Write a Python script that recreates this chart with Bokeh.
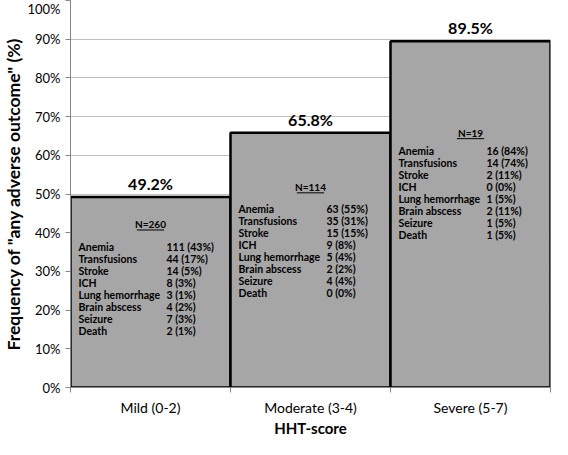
from bokeh.plotting import figure
from bokeh.models import Range1d, FixedTicker, PrintfTickFormatter, ColumnDataSource
from bokeh.core.properties import value
from bokeh.embed import file_html
from bokeh.resources import INLINE

# ---- data ----
categories = ["Mild (0-2)", "Moderate (3-4)", "Severe (5-7)"]
freq = [49.2, 65.8, 89.5]
n_patients = [260, 114, 19]
outcomes = ["Anemia", "Transfusions", "Stroke", "ICH", "Lung hemorrhage",
            "Brain abscess", "Seizure", "Death"]
mild_counts = ["111 (43%)", "44 (17%)", "14 (5%)", " 8 (3%)", "3 (1%)", "4 (2%)", "7 (3%)", "2 (1%)"]
moderate_counts = ["63 (55%)", "35 (31%)", "15 (15%)", "9 (8%)", "5 (4%)", "2 (2%)", "4 (4%)", "0 (0%)"]
severe_counts = ["16 (84%)", "14 (74%)", "2 (11%)", "0 (0%)", "1 (5%)", "2 (11%)", "1 (5%)", "1 (5%)"]
y_ticks = [0, 10, 20, 30, 40, 50, 60, 70, 80, 90, 100]

# ---- layout helpers (positions, not data) ----
header_y = [42.2, 51.8, 65.8]
first_line_y = [36.2, 46.0, 61.1]
line_step = 3.1
name_dx = 0.05
count_dx = 0.60

FONT = "Lato"

p = figure(width=552, height=439, output_backend="svg", toolbar_location=None,
           x_range=Range1d(0, 3), y_range=Range1d(0, 100),
           min_border_left=0, min_border_right=2, min_border_top=0, min_border_bottom=0)
p.outline_line_color = None
p.background_fill_color = "white"
p.border_fill_color = "white"

# grid
p.xgrid.grid_line_color = None
p.ygrid.ticker = FixedTicker(ticks=y_ticks)
p.ygrid.grid_line_color = "#BFBFBF"
p.ygrid.grid_line_width = 1

# bars
idx = list(range(len(categories)))
src = ColumnDataSource(dict(left=idx, right=[i + 1 for i in idx], top=freq,
                            bottom=[0] * len(idx),
                            mid=[i + 0.5 for i in idx],
                            lab=[f"{v:.1f}%" for v in freq]))
p.quad(left="left", right="right", top="top", bottom="bottom", source=src,
       fill_color="#A6A6A6", line_color="black", line_width=2.5)

# value labels
p.text(x="mid", y="top", text="lab", source=src, text_align="center",
       text_baseline="bottom", y_offset=-4, text_font=value(FONT),
       text_font_style="bold", text_font_size="16px", text_color="black")

# text inside bars
all_counts = [mild_counts, moderate_counts, severe_counts]
for i in idx:
    hy = header_y[i]
    p.text(x=[i + 0.5], y=[hy], text=[f"N={n_patients[i]}"], text_align="center",
           text_baseline="middle", text_font=value(FONT), text_font_style="bold",
           text_font_size="10px", text_color="black")
    p.segment(x0=[i + 0.5 - 0.085], x1=[i + 0.5 + 0.085], y0=[hy - 1.5], y1=[hy - 1.5],
              line_color="black", line_width=1)
    ys = [first_line_y[i] - k * line_step for k in range(len(outcomes))]
    p.text(x=[i + name_dx] * len(outcomes), y=ys, text=outcomes, text_align="left",
           text_baseline="middle", text_font=value(FONT), text_font_style="bold",
           text_font_size="10.5px", text_color="black")
    p.text(x=[i + count_dx] * len(outcomes), y=ys, text=all_counts[i], text_align="left",
           text_baseline="middle", text_font=value(FONT), text_font_style="bold",
           text_font_size="10.5px", text_color="black")

# y axis
ya = p.yaxis[0]
ya.ticker = FixedTicker(ticks=y_ticks)
ya.formatter = PrintfTickFormatter(format="%d%%")
ya.axis_line_color = "#868686"
ya.major_tick_line_color = "#868686"
ya.major_tick_out = 5
ya.major_tick_in = 0
ya.minor_tick_line_color = None
ya.major_label_text_font = FONT
ya.major_label_text_font_size = "13px"
ya.major_label_text_color = "black"
ya.major_label_standoff = 5
ya.axis_label = 'Frequency of "any adverse outcome" (%)'
ya.axis_label_text_font = FONT
ya.axis_label_text_font_style = "bold"
ya.axis_label_text_font_size = "17.5px"
ya.axis_label_text_color = "black"
ya.axis_label_standoff = 0

# x axis
xa = p.xaxis[0]
xa.ticker = FixedTicker(ticks=[0.5, 1.5, 2.5], minor_ticks=[0, 1, 2, 3])
xa.major_label_overrides = {0.5: categories[0], 1.5: categories[1], 2.5: categories[2]}
xa.axis_line_color = "#868686"
xa.major_tick_line_color = None
xa.major_tick_out = 0
xa.major_tick_in = 0
xa.minor_tick_line_color = "#868686"
xa.minor_tick_out = 5
xa.minor_tick_in = 0
xa.major_label_text_font = FONT
xa.major_label_text_font_size = "14px"
xa.major_label_text_color = "black"
xa.major_label_standoff = 6
xa.axis_label = "HHT-score"
xa.axis_label_text_font = FONT
xa.axis_label_text_font_style = "bold"
xa.axis_label_text_font_size = "15px"
xa.axis_label_text_color = "black"
xa.axis_label_text_line_height = 0.8
xa.axis_label_standoff = 0

open("out.html", "w").write(file_html(p, INLINE))
